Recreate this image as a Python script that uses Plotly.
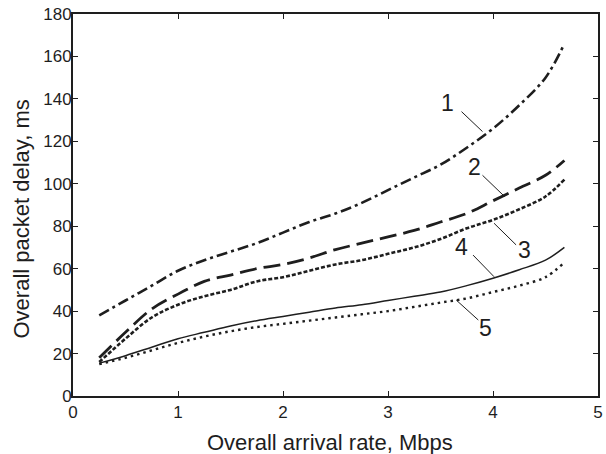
import plotly.graph_objects as go

# Overall arrival rate, Mbps
rate = [0.25, 0.5, 0.75, 1.0, 1.25, 1.5, 1.75, 2.0, 2.25, 2.5, 2.75,
        3.0, 3.25, 3.5, 3.75, 4.0, 4.25, 4.5, 4.68]

# Overall packet delay, ms, for the five configurations
delay_1 = [38, 45, 52, 59, 64, 68, 72, 77, 82, 86, 91, 97, 103, 109, 117, 126, 137, 150, 166]
delay_2 = [18, 30, 41, 48, 54, 57, 60, 62, 65, 69, 72, 75, 78, 82, 86, 92, 98, 104, 111]
delay_3 = [16, 27, 37, 43, 47, 50, 54, 56, 59, 62, 64, 67, 70, 74, 79, 83, 88, 94, 102]
delay_4 = [15.5, 19, 23, 27, 30, 33, 35.5, 37.5, 39.5, 41.5, 43, 45, 47, 49, 52, 55.5, 59.5, 64, 70]
delay_5 = [15, 18, 21.5, 25, 28, 30.5, 32.5, 34, 35.5, 37, 38.5, 40, 42, 44, 46, 49, 52, 56, 63]

curve_labels = ["1", "2", "3", "4", "5"]
# label text position and leader line (from, to) in data units
label_pos = [(3.57, 138), (3.82, 108), (4.30, 69), (3.70, 70), (3.93, 32)]
leaders = [((3.70, 134), (3.90, 124.6)),
           ((3.90, 104), (4.11, 94)),
           ((4.01, 81.4), (4.22, 71.2)),
           ((3.81, 66.4), (4.01, 56.2)),
           ((3.65, 45.2), (3.86, 35.8))]

x_ticks = [0, 1, 2, 3, 4, 5]
y_ticks = [0, 20, 40, 60, 80, 100, 120, 140, 160, 180]

x_title = "Overall arrival rate, Mbps"
y_title = "Overall packet delay, ms"

INK = "#1e1e1e"
FONT = "Liberation Sans, Arial, sans-serif"

W, H = 606, 454
M = dict(l=73, r=3, t=14, b=58)
dom_w = W - M["l"] - M["r"]
dom_h = H - M["t"] - M["b"]

series = [
    (delay_1, dict(width=2.6, dash="11px,4px,3px,4px")),
    (delay_2, dict(width=2.8, dash="17px,7px")),
    (delay_3, dict(width=2.6, dash="4px,2px")),
    (delay_4, dict(width=1.5, dash="solid")),
    (delay_5, dict(width=2.4, dash="2.5px,4px")),
]

fig = go.Figure()
for values, style in series:
    fig.add_trace(go.Scatter(
        x=rate, y=values, mode="lines", line_shape="spline",
        line=dict(color=INK, **style), showlegend=False, hoverinfo="skip"))

for (x0, y0), (x1, y1) in leaders:
    fig.add_shape(type="line", x0=x0, y0=y0, x1=x1, y1=y1,
                  line=dict(color=INK, width=1))

for text, (tx, ty) in zip(curve_labels, label_pos):
    fig.add_annotation(x=tx, y=ty, text=text, showarrow=False,
                       font=dict(family=FONT, size=23, color=INK))

# axis titles, placed in paper coordinates (pixel offsets from the plot box)
fig.add_annotation(x=(332 - M["l"]) / dom_w, y=-(442 - (H - M["b"])) / dom_h,
                   xref="paper", yref="paper", text=x_title, showarrow=False,
                   xanchor="center", yanchor="middle",
                   font=dict(family=FONT, size=22, color=INK))
fig.add_annotation(x=(21 - M["l"]) / dom_w, y=((H - M["b"]) - 219) / dom_h,
                   xref="paper", yref="paper", text=y_title, showarrow=False,
                   textangle=-90, xanchor="center", yanchor="middle",
                   font=dict(family=FONT, size=22, color=INK))

axis_common = dict(
    showline=True, linecolor=INK, linewidth=2, mirror="ticks",
    ticks="inside", ticklen=5, tickwidth=1, tickcolor=INK,
    showgrid=False, zeroline=False,
    tickfont=dict(family=FONT, size=17, color=INK),
)

fig.update_xaxes(range=[0, 5], tickvals=x_ticks, **axis_common)
fig.update_yaxes(range=[0, 180], tickvals=y_ticks, ticklabelstandoff=-4,
                 **axis_common)

fig.update_layout(
    width=W, height=H, margin=M,
    paper_bgcolor="white", plot_bgcolor="white",
)

fig.write_html("out.html")
